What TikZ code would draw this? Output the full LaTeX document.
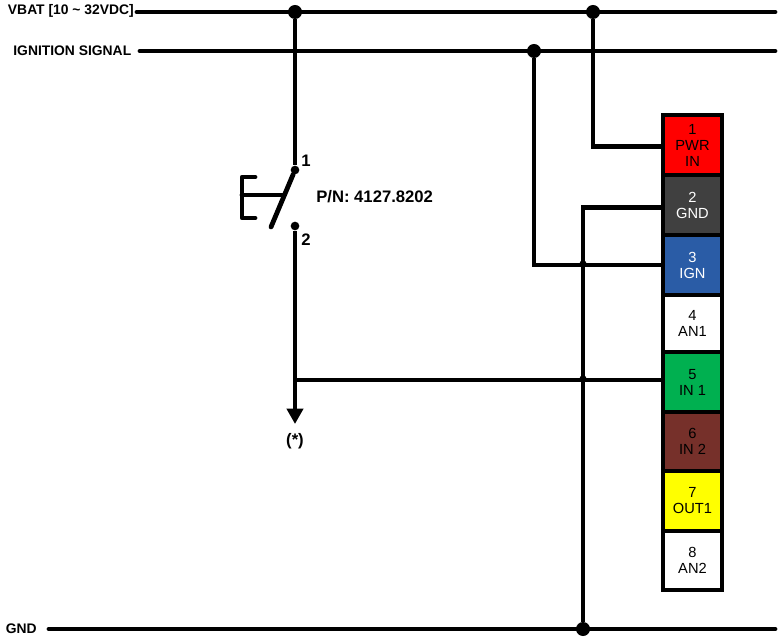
\documentclass[tikz,border=0pt]{standalone}
\usepackage{fontspec}
\setmainfont{Liberation Sans}
\usetikzlibrary{arrows.meta}
\tikzset{
	wire/.style={line width=3.6pt},
	thinwire/.style={line width=2.7pt},
	junct/.style={circle, fill=black, inner sep=0pt, minimum size=10.5pt},
	contact/.style={circle, fill=black, inner sep=0pt, minimum size=6.5pt},
	tap/.style={circle, fill=black, inner sep=0pt, minimum size=5.5pt},
	sig/.style={font=\bfseries\fontsize{10.4}{12}\selectfont, inner sep=0pt},
	lbl/.style={font=\bfseries\fontsize{12.5}{14}\selectfont, inner sep=0pt},
	pinbox/.style={draw, line width=3pt, minimum width=44.25pt, inner sep=0pt, align=center,
		font=\fontsize{11}{12}\selectfont},
}
\begin{document}
\begin{tikzpicture}[x=0.75pt, y=-0.75pt]
	\useasboundingbox (0,0) rectangle (781,641);

		%rail ends
	\coordinate (vbatL) at (137,12);
	\coordinate (vbatR) at (775,12);
	\coordinate (ignL) at (140,51);
	\coordinate (ignR) at (775,51);
	\coordinate (gndL) at (49,629);
	\coordinate (gndR) at (775,629);
	\coordinate (outEnd) at (295,424);

		%labels
	\node[sig, anchor=east] (vbat) at (134,11) {VBAT [10 \textasciitilde{} 32VDC]};
	\node[sig, anchor=east] (ign) at (131.5,51) {IGNITION SIGNAL};
	\node[sig, anchor=east] (gnd) at (37,629) {GND};
	\node[lbl, anchor=west] (pn) at (316,197) {P/N: 4127.8202};
	\node[lbl] (one) at (306,161) {1};
	\node[lbl] (two) at (306,240) {2};
	\node[lbl] (star) at (295,441) {(*)};

		%connector pins
	\node[pinbox, minimum height=45.4pt, fill={rgb,255:red,255;green,0;blue,0}] (pin1) at (692.5,145.2) {1\\PWR\\IN};
	\node[pinbox, minimum height=44.6pt, fill={rgb,255:red,64;green,64;blue,64}, text=white] (pin2) at (692.5,205.2) {2\\GND};
	\node[pinbox, minimum height=45pt, fill={rgb,255:red,42;green,92;blue,166}, text=white] (pin3) at (692.5,265) {3\\IGN};
	\node[pinbox, minimum height=42.8pt, fill=white] (pin4) at (692.5,323.5) {4\\AN1};
	\node[pinbox, minimum height=45pt, fill={rgb,255:red,0;green,176;blue,80}] (pin5) at (692.5,382) {5\\IN 1};
	\node[pinbox, minimum height=44.2pt, fill={rgb,255:red,118;green,48;blue,42}] (pin6) at (692.5,441.5) {6\\IN 2};
	\node[pinbox, minimum height=45pt, fill={rgb,255:red,255;green,255;blue,0}] (pin7) at (692.5,501) {7\\OUT1};
	\node[pinbox, minimum height=44.2pt, fill=white] (pin8) at (692.5,560.5) {8\\AN2};

		%junctions
	\node[junct] (jvbatA) at (295,12) {};
	\node[junct] (jvbatB) at (593,12) {};
	\node[junct] (jign) at (534,51) {};
	\node[junct] (jgnd) at (583,629) {};
	\node[contact] (sw1) at (295,170) {};
	\node[contact] (sw2) at (295,226) {};
	\node[tap] (tap3) at (583,264) {};
	\node[tap] (tap5) at (583,379) {};

		%rails
	\draw[wire, line cap=round] (vbatL) -- (vbatR);
	\draw[wire, line cap=round] (ignL) -- (ignR);
	\draw[wire, line cap=round] (gndL) -- (gndR);

		%switch
	\draw[wire] (jvbatA) -- (sw1);
	\draw[wire, line cap=round] (sw1) -- (271,227);
	\draw[wire, line cap=round] (283,195) -- (242,195);
	\draw[wire, line cap=round, line join=round] (255,177) -- (242,177) -- (242,218) -- (255,218);
	\draw[wire, -{Triangle[length=11.5pt, width=12pt]}] (sw2) -- (outEnd);

		%pin wires
	\draw[wire] (jvbatB) |- ([yshift=-0.8pt]pin1.west);
	\draw[wire] (jgnd) |- ([yshift=-1.5pt]pin2.west);
	\draw[thinwire] (jign) |- (pin3);
	\draw[thinwire] (295,380) -- ([yshift=1.5pt]pin5.west);
\end{tikzpicture}
\end{document}
